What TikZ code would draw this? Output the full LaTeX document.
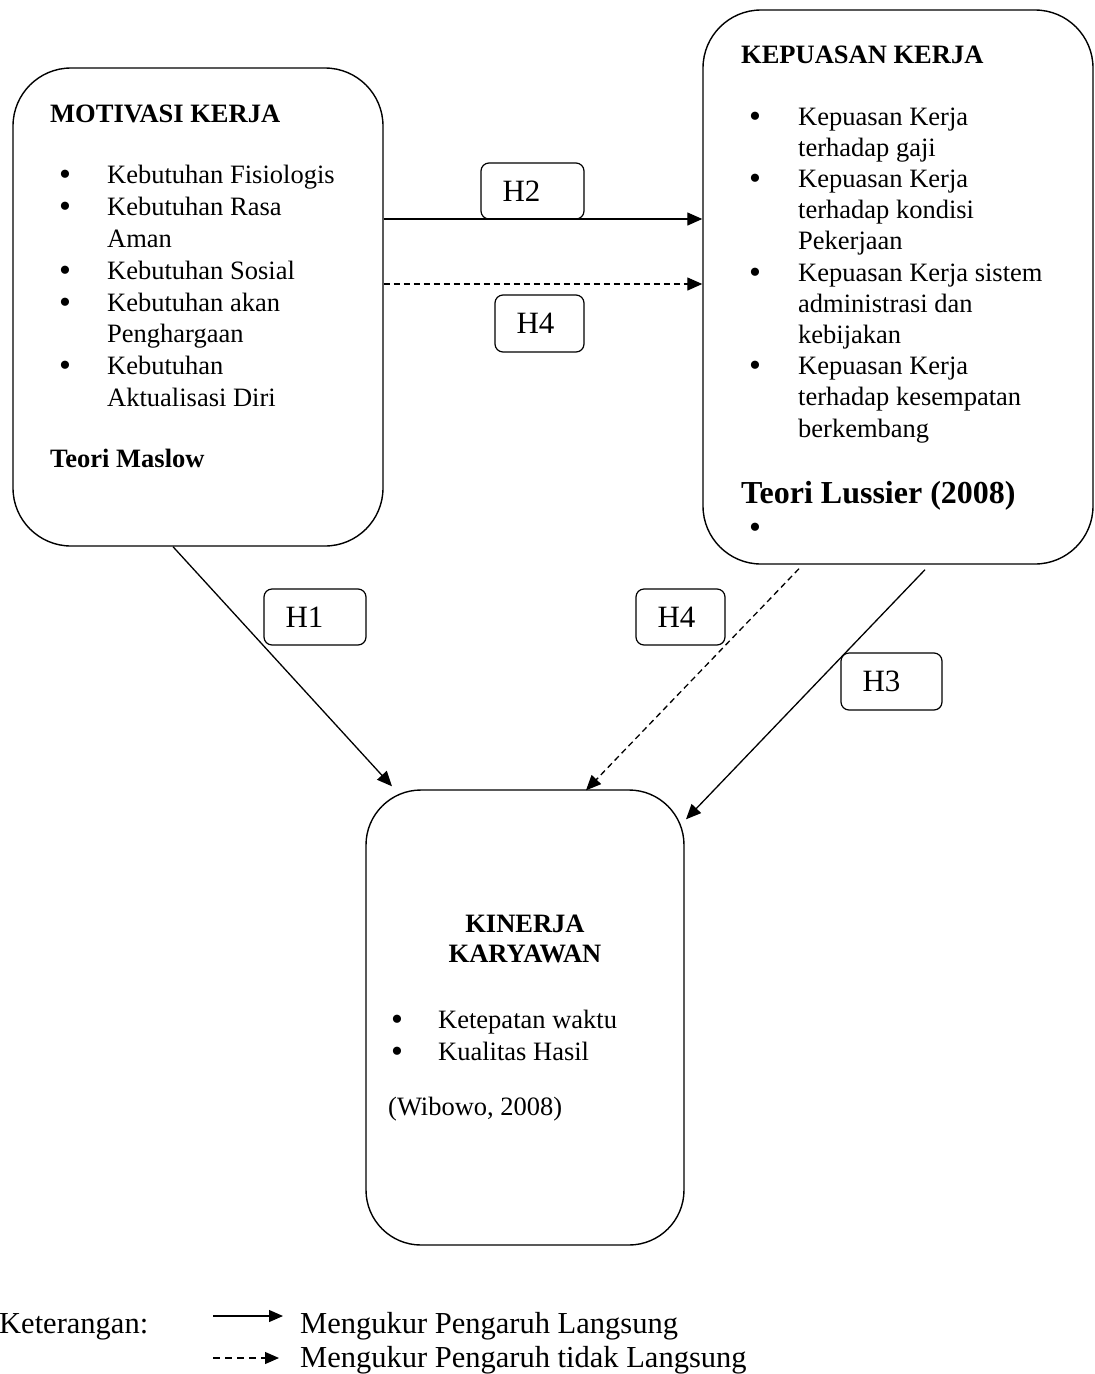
\documentclass[tikz,border=0pt]{standalone}
\usepackage{fontspec}
\setmainfont{Liberation Serif}
\usetikzlibrary{arrows.meta,calc}
\newcommand\bodyfnt{\fontsize{26.5}{31.5}\selectfont}
\newcommand\bulfnt{\fontsize{34}{36}\selectfont}
\newcommand\labfnt{\fontsize{31}{36}\selectfont}
\newcommand\legfnt{\fontsize{30.5}{36}\selectfont}
\newcommand\hlab[2]{\makebox[#1pt][l]{\hspace{21.5pt}#2}}
\begin{document}
\begin{tikzpicture}[x=1pt,y=-1pt,
  bigbox/.style={draw, rounded corners=58pt, line width=1.4pt, inner sep=0pt},
  hbox/.style={draw, rounded corners=8pt, line width=1.2pt, inner sep=0pt, font=\labfnt},
  arr/.style={line width=1.3pt, -{Triangle[length=15pt,width=13pt]}},
  larr/.style={line width=1.2pt, -{Triangle[length=14pt,width=12pt]}},
  dsh/.style={dash pattern=on 6pt off 4pt},
  ldsh/.style={dash pattern=on 7pt off 5pt},
  txt/.style={anchor=base west, inner sep=0pt, font=\bodyfnt},
  btxt/.style={anchor=base west, inner sep=0pt, font=\bodyfnt\bfseries},
  bul/.style={anchor=base, inner sep=0pt, font=\bulfnt, yshift=-2pt},
  leg/.style={anchor=base west, inner sep=0pt, font=\legfnt},
]
\useasboundingbox (0,0) rectangle (1095,1374);

% main boxes
\node[bigbox, minimum width=370pt, minimum height=478pt] (mot) at (198,307) {};
\node[bigbox, minimum width=390pt, minimum height=554pt] (kep) at (898,287) {};
\node[bigbox, minimum width=318pt, minimum height=455pt, rounded corners=55pt] (kin) at (525,1017.5) {};

% MOTIVASI KERJA
\node[btxt] (motT) at (50,122) {MOTIVASI KERJA};
\foreach \y/\t [count=\i] in {183/Kebutuhan Fisiologis, 215/Kebutuhan Rasa, 247/Aman,
  279/Kebutuhan Sosial, 311/Kebutuhan akan, 342.5/Penghargaan, 374.5/Kebutuhan, 406.5/Aktualisasi Diri}
  {\node[txt] (ma\i) at (107,\y) {\t};}
\foreach \y [count=\i] in {183,215,279,311,374.5}
  {\node[bul] (mb\i) at (65,\y) {•};}
\node[btxt] (motS) at (50,467) {Teori Maslow};

% KEPUASAN KERJA
\node[btxt] (kepT) at (741,63) {KEPUASAN KERJA};
\foreach \y/\t [count=\i] in {125/Kepuasan Kerja, 156.2/terhadap gaji, 187.4/Kepuasan Kerja,
  218.6/terhadap kondisi, 249.8/Pekerjaan, 281/Kepuasan Kerja sistem, 312.2/administrasi dan,
  343.4/kebijakan, 374.6/Kepuasan Kerja, 405.8/terhadap kesempatan, 437/berkembang}
  {\node[txt] (ka\i) at (798,\y) {\t};}
\foreach \y [count=\i] in {125,187.4,281,374.6,536}
  {\node[bul] (kb\i) at (755,\y) {•};}
\node[anchor=base west, inner sep=0pt, font=\fontsize{32}{38}\selectfont\bfseries] (kepS) at (741,503) {Teori Lussier (2008)};

% KINERJA KARYAWAN
\node[anchor=base, inner sep=0pt, font=\bodyfnt\bfseries] (kinT1) at (525,932) {KINERJA};
\node[anchor=base, inner sep=0pt, font=\bodyfnt\bfseries] (kinT2) at (525,962) {KARYAWAN};
\node[txt] (kia1) at (438,1028) {Ketepatan waktu};
\node[txt] (kia2) at (438,1060) {Kualitas Hasil};
\node[bul] (kib1) at (397,1028) {•};
\node[bul] (kib2) at (397,1060) {•};
\node[txt] (kinS) at (388,1115) {(Wibowo, 2008)};

% hypothesis labels
\node[hbox, minimum height=56pt] (H2) at (532.5,191) {\hlab{103}{H2}};
\node[hbox, minimum height=57pt] (H4a) at (539.5,323.5) {\hlab{89}{H4}};
\node[hbox, minimum height=56pt] (H1) at (315,617) {\hlab{102}{H1}};
\node[hbox, minimum height=56pt] (H4b) at (680.5,617) {\hlab{89}{H4}};
\node[hbox, minimum height=57pt] (H3) at (891.5,681.5) {\hlab{101}{H3}};

% connectors
\coordinate (yA) at (0,219);
\coordinate (yB) at (0,284);
\draw[arr] (mot.east |- yA) -- (kep.west |- yA);
\draw[arr, dsh] (mot.east |- yB) -- (kep.west |- yB);
\draw[arr] ($(mot.south)+(-25,0)$) -- ($(kin.north)+(-133,-3)$);
\draw[arr, dsh] ($(kep.south)+(-99,4)$) -- ($(kin.north)+(61,1)$);
\draw[arr] ($(kep.south)+(27,5)$) -- ($(kin.north)+(161,30)$);

% legend
\node[leg] (ket) at (-1,1333) {Keterangan:};
\node[leg] (leg1) at (300,1333) {Mengukur Pengaruh Langsung};
\node[leg] (leg2) at (300,1367) {Mengukur Pengaruh tidak Langsung};
\coordinate (la1s) at (213,1316);
\coordinate (la1e) at (283,1316);
\coordinate (la2s) at (213,1358);
\coordinate (la2e) at (279,1358);
\draw[larr] (la1s) -- (la1e);
\draw[larr, ldsh] (la2s) -- (la2e);
\end{tikzpicture}
\end{document}
